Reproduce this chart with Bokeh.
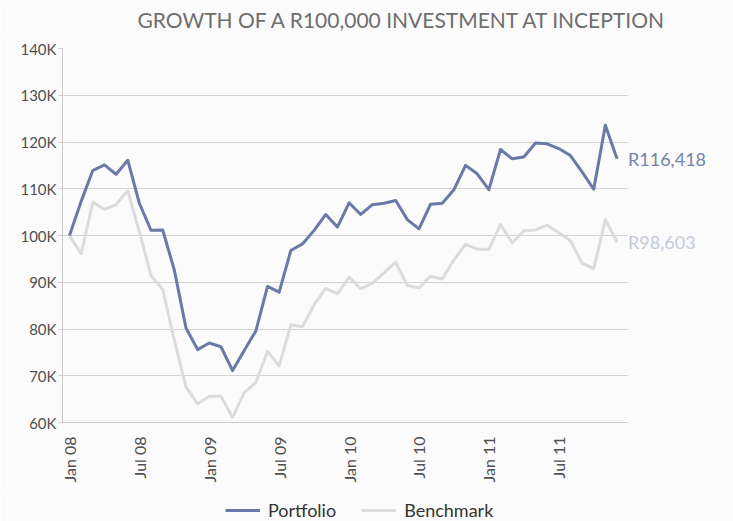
from bokeh.plotting import figure
from bokeh.layouts import column
from bokeh.models import (ColumnDataSource, FixedTicker, Legend, LegendItem,
                          Range1d)
from bokeh.core.properties import value
from bokeh.embed import file_html
from bokeh.resources import INLINE
from math import pi

# ---------------- data ----------------
month_names = ["Jan", "Feb", "Mar", "Apr", "May", "Jun",
               "Jul", "Aug", "Sep", "Oct", "Nov", "Dec"]
years = ["08", "09", "10", "11"]
months = [f"{m} {y}" for y in years for m in month_names]

portfolio = [100000, 107300, 113900, 115100, 113100, 116100, 106900, 101100,
             101200, 92600, 80200, 75600, 77000, 76200, 71100, 75400,
             79600, 89100, 87900, 96800, 98200, 101100, 104500, 101800,
             107000, 104500, 106600, 106900, 107500, 103400, 101400, 106700,
             106900, 109800, 115000, 113200, 109800, 118400, 116400, 116800,
             119800, 119600, 118600, 117100, 113600, 109900, 123600, 116418]

benchmark = [100000, 96100, 107100, 105600, 106600, 109600, 100800, 91400,
             88500, 77600, 67600, 64000, 65600, 65600, 61100, 66400,
             68600, 75200, 72100, 80900, 80500, 85200, 88700, 87500,
             91100, 88600, 89800, 92000, 94300, 89300, 88800, 91300,
             90700, 94800, 98100, 97100, 97000, 102400, 98400, 101000,
             101200, 102200, 100600, 98900, 94100, 92900, 103400, 98603]

series_names = ["Portfolio", "Benchmark"]
x_tick_labels = ["Jan 08", "Jul 08", "Jan 09", "Jul 09",
                 "Jan 10", "Jul 10", "Jan 11", "Jul 11"]
y_ticks = [60000, 70000, 80000, 90000, 100000, 110000, 120000, 130000, 140000]
y_tick_labels = ["60K", "70K", "80K", "90K", "100K", "110K", "120K", "130K", "140K"]
title_text = "GROWTH OF A R100,000 INVESTMENT AT INCEPTION"

# ---------------- style / layout ----------------
FONT = "Lato"
C_PORT = "#6a79a7"
C_BENCH = "#dcdcdc"
C_PORT_LBL = "#7483ab"
C_BENCH_LBL = "#c5cad8"
BG = "#fbfbfb"
GRID = "#d2d2d2"
TXT = "#505050"

W, H = 733, 521
TITLE_H, LEG_H = 36, 30
LEFT, RIGHT = 62, 5
TOP = 48 - TITLE_H
BOTTOM = 99 - LEG_H
DATA_RIGHT_PX = 627                      # where grid / data area ends
x_start, x_data_end = -0.6, 47.9
px_per_unit = (DATA_RIGHT_PX - LEFT) / (x_data_end - x_start)
x_end = x_start + (W - RIGHT - LEFT) / px_per_unit

last = len(months) - 1
source = ColumnDataSource(dict(
    x=list(range(len(months))),
    month=months,
    portfolio=portfolio,
    benchmark=benchmark,
))
end_src = ColumnDataSource(dict(
    x=[last, last],
    y=[portfolio[last], benchmark[last]],
    text=[f"R{portfolio[last]:,.0f}", f"R{benchmark[last]:,.0f}"],
    color=[C_PORT_LBL, C_BENCH_LBL],
))

def strip(height):
    # frames of a column are aligned with the main chart's frame,
    # so map the x range to canvas pixels of that frame
    f = figure(width=W, height=height, output_backend="svg",
               toolbar_location=None, x_range=Range1d(LEFT, W - RIGHT),
               y_range=Range1d(0, height), x_axis_location=None,
               y_axis_location=None, min_border=0, background_fill_color=BG,
               border_fill_color=BG, outline_line_color=None)
    f.grid.visible = False
    return f

# ---------------- title strip ----------------
pt = strip(TITLE_H)
pt.text(x=[LEFT + 75], y=[TITLE_H - 19], text=[title_text],
        text_align="left", text_baseline="middle", text_font=value(FONT),
        text_font_size="21px", text_color="#6e6e6e")

# ---------------- main chart ----------------
p = figure(width=W, height=H - TITLE_H - LEG_H, output_backend="svg",
           toolbar_location=None,
           x_range=Range1d(x_start, x_end), y_range=Range1d(60000, 140000),
           min_border_left=LEFT, min_border_right=RIGHT, min_border_top=TOP,
           min_border_bottom=BOTTOM, background_fill_color=BG,
           border_fill_color=BG, outline_line_color=None)

r_bench = p.line("x", "benchmark", source=source, line_color=C_BENCH,
                 line_width=3, line_join="round")
r_port = p.line("x", "portfolio", source=source, line_color=C_PORT,
                line_width=3, line_join="round")

p.text("x", "y", text="text", source=end_src, text_color="color",
       x_offset=11, text_align="left", text_baseline="middle",
       text_font=value(FONT), text_font_size="18px")

xa = p.xaxis[0]
xa.ticker = FixedTicker(ticks=[months.index(l) for l in x_tick_labels])
xa.major_label_overrides = {months.index(l): l for l in x_tick_labels}
xa.major_label_orientation = pi / 2
xa.major_label_text_font = FONT
xa.major_label_text_font_size = "16px"
xa.major_label_text_color = TXT
xa.major_label_standoff = 8
xa.major_tick_line_color = None
xa.minor_tick_line_color = None
xa.axis_line_color = "#cccccc"
xa.bounds = (x_start, x_data_end)

ya = p.yaxis[0]
ya.ticker = FixedTicker(ticks=y_ticks)
ya.major_label_overrides = {v: l for v, l in zip(y_ticks, y_tick_labels)}
ya.major_label_text_font = FONT
ya.major_label_text_font_size = "15px"
ya.major_label_text_color = TXT
ya.major_label_standoff = 2
ya.major_tick_out = 4
ya.major_tick_in = 0
ya.major_tick_line_color = "#cccccc"
ya.minor_tick_line_color = None
ya.axis_line_color = "#cccccc"

p.xgrid.grid_line_color = None
p.ygrid.grid_line_color = GRID
p.ygrid.ticker = FixedTicker(ticks=y_ticks)
p.ygrid.cross_bounds = (x_start, x_data_end)

# ---------------- legend strip ----------------
pl = strip(LEG_H)
lp = pl.line("x", "portfolio", source=source, line_color=C_PORT, line_width=3)
lb = pl.line("x", "benchmark", source=source, line_color=C_BENCH, line_width=3)

legend = Legend(items=[LegendItem(label=series_names[0], renderers=[lp]),
                       LegendItem(label=series_names[1], renderers=[lb])],
                orientation="horizontal", location=(163, 0),
                border_line_color=None, background_fill_alpha=0,
                label_text_font=FONT, label_text_font_size="18px",
                label_text_color="#333333", glyph_width=35, glyph_height=18,
                label_height=18, label_standoff=8, spacing=25,
                padding=0, margin=0)
pl.add_layout(legend, "center")

layout = column(pt, p, pl, spacing=0)
open("out.html", "w").write(file_html(layout, INLINE))
